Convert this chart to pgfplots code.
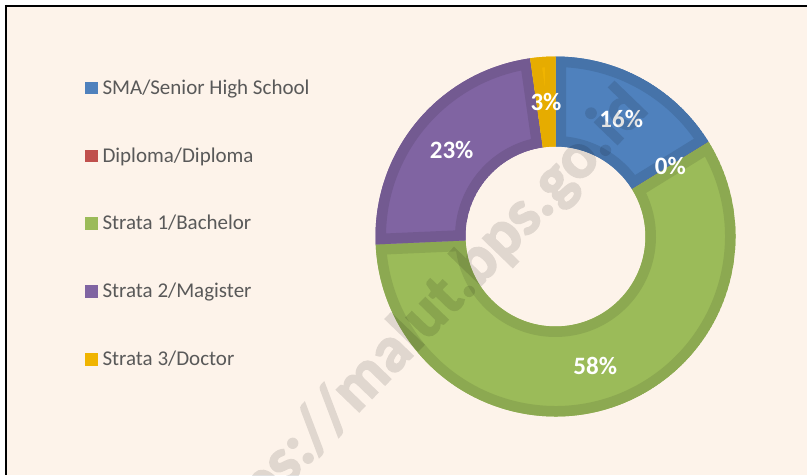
\documentclass[border=0pt]{standalone}
\usepackage{fontspec}
\setmainfont{Carlito}
\newfontfamily\wmfam{Carlito}[BoldFeatures={FakeBold=2.5}]
\usepackage{pgfplots}
\usepackage{pgfplotstable}
\pgfplotsset{compat=1.18}

\definecolor{bgcream}{HTML}{FDF3EA}
\definecolor{legtext}{HTML}{595959}
\definecolor{segL0}{HTML}{4F81BD}\definecolor{segD0}{HTML}{4673A9}
\definecolor{segL1}{HTML}{C0504D}\definecolor{segD1}{HTML}{AB4744}
\definecolor{segL2}{HTML}{9BBB59}\definecolor{segD2}{HTML}{8CA951}
\definecolor{segL3}{HTML}{8064A2}\definecolor{segD3}{HTML}{735A91}
\definecolor{segL4}{HTML}{F0B400}\definecolor{segD4}{HTML}{E6AC00}

\newcommand\labfont{\fontsize{25}{30}\selectfont\bfseries}
\newcommand\legfont{\fontsize{21}{25}\selectfont}
\newcommand\wmfont{\wmfam\fontsize{65}{75}\selectfont\bfseries}
\def\cx{555.5}
\def\cy{238.5}

% share of employees by education (percent), label as printed
\pgfplotstableread[col sep=comma]{
name,value,lab
SMA/Senior High School,16.2,16
Diploma/Diploma,0.0,0
Strata 1/Bachelor,58.1,58
Strata 2/Magister,23.45,23
Strata 3/Doctor,2.25,3
}\edudata

\begin{document}
\begin{tikzpicture}
\def\cum{0}
\pgfplotsforeachungrouped \i in {0,...,4}{%
  \pgfplotstablegetelem{\i}{value}\of\edudata
  \let\val\pgfplotsretval
  \pgfmathsetmacro\aS{90-3.6*\cum}%
  \pgfmathsetmacro\cum{\cum+\val}%
  \pgfmathsetmacro\aE{90-3.6*\cum}%
  \pgfmathsetmacro\aM{(\aS+\aE)/2}%
  \expandafter\xdef\csname aS\i\endcsname{\aS}%
  \expandafter\xdef\csname aE\i\endcsname{\aE}%
  \expandafter\xdef\csname aM\i\endcsname{\aM}%
  \pgfplotstablegetelem{\i}{lab}\of\edudata
  \expandafter\xdef\csname lab\i\endcsname{\pgfplotsretval}%
  \pgfplotstablegetelem{\i}{name}\of\edudata
  \expandafter\xdef\csname nm\i\endcsname{\pgfplotsretval}%
}
\begin{axis}[width=807pt,height=475pt,scale only axis,
  xmin=0,xmax=807,ymin=0,ymax=475,hide axis,clip=false]
\pgfplotsextra{
  \fill[white] (axis cs:0,0) rectangle (axis cs:807,475);
  \fill[bgcream] (axis cs:6,0) rectangle (axis cs:807,469);
  \draw[black,line width=2.3pt] (axis cs:4.85,469) -- (axis cs:807,469);
  \draw[black,line width=2.3pt] (axis cs:6,470.15) -- (axis cs:6,0);
  % donut segments
  \foreach \i in {0,...,4}{
    \edef\s{\csname aS\i\endcsname}\edef\e{\csname aE\i\endcsname}
    \begin{scope}
      \clip (axis cs:{\cx+180*cos(\s)},{\cy+180*sin(\s)}) arc[start angle=\s,end angle=\e,radius=180pt]
        -- (axis cs:{\cx+90*cos(\e)},{\cy+90*sin(\e)}) arc[start angle=\e,end angle=\s,radius=90pt] -- cycle;
      \fill[segL\i] (axis cs:{\cx+180*cos(\s)},{\cy+180*sin(\s)}) arc[start angle=\s,end angle=\e,radius=180pt]
        -- (axis cs:{\cx+90*cos(\e)},{\cy+90*sin(\e)}) arc[start angle=\e,end angle=\s,radius=90pt] -- cycle;
      \draw[segD\i,line width=21pt] (axis cs:{\cx+180*cos(\s)},{\cy+180*sin(\s)}) arc[start angle=\s,end angle=\e,radius=180pt]
        -- (axis cs:{\cx+90*cos(\e)},{\cy+90*sin(\e)}) arc[start angle=\e,end angle=\s,radius=90pt] -- cycle;
    \end{scope}
  }
  % data labels
  \foreach \i in {0,...,4}{
    \edef\m{\csname aM\i\endcsname}
    \node[text=white,font=\labfont,inner sep=0] at (axis cs:{\cx+135*cos(\m)},{\cy+135*sin(\m)}) {\csname lab\i\endcsname\%};
  }
  % legend
  \foreach \i in {0,...,4}{
    \pgfmathsetmacro\yb{475-94.3-67.8*\i}
    \fill[segL\i] (axis cs:85,\yb) rectangle (axis cs:97.6,{\yb+12.6});
    \node[anchor=base west,inner sep=0,text=legtext,font=\legfont] at (axis cs:102.3,\yb) {\csname nm\i\endcsname};
  }
  % watermark
  \begin{scope}[transparency group,opacity=0.115]
    \clip (axis cs:0,0) rectangle (axis cs:807,475);
    \node[rotate=46,anchor=mid,font=\wmfont,text=black,inner sep=0] at (axis cs:428,138) {https://malut.bps.go.id};
  \end{scope}
}
\end{axis}
\pgfresetboundingbox
\path[use as bounding box] (current axis.south west) rectangle (current axis.north east);
\end{tikzpicture}
\end{document}
